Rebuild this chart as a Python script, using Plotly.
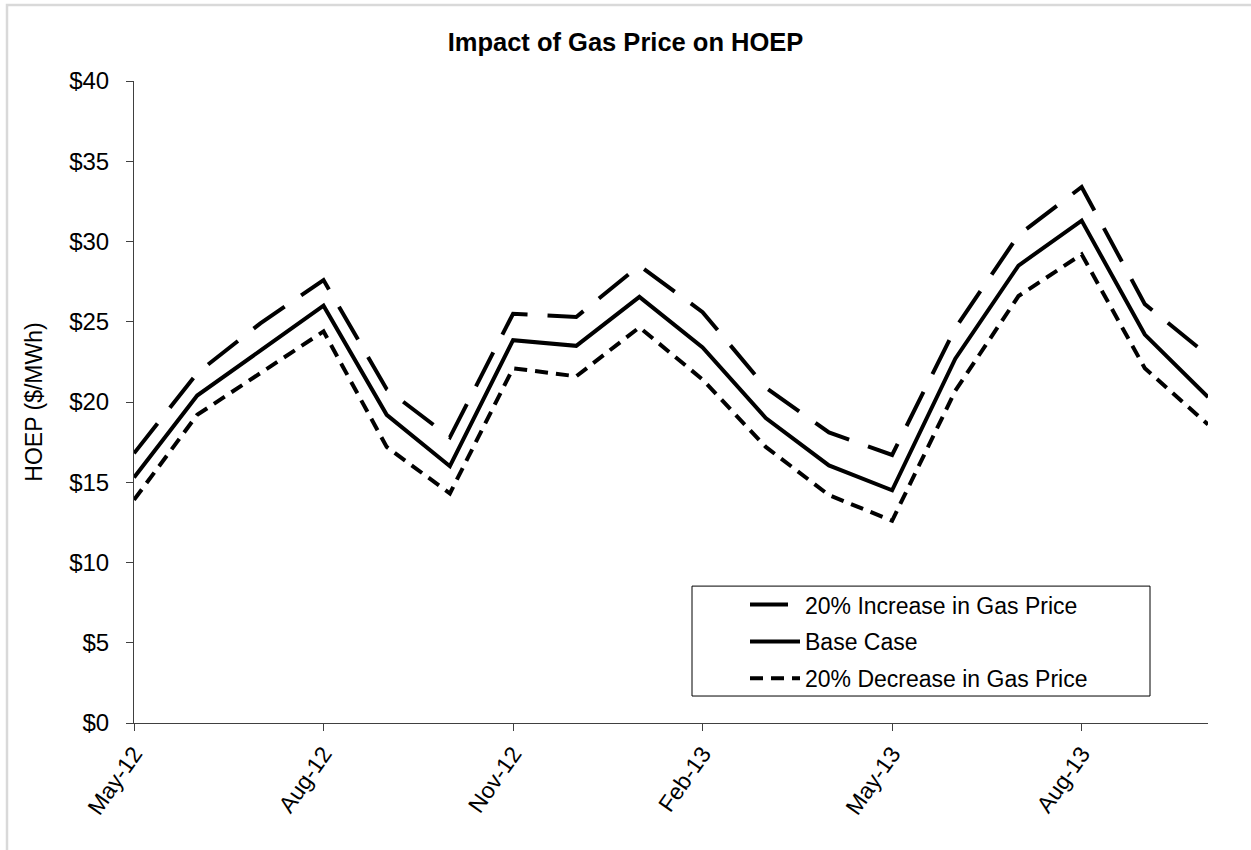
import plotly.graph_objects as go

# ---- data ----
months = ["May-12", "Jun-12", "Jul-12", "Aug-12", "Sep-12", "Oct-12", "Nov-12", "Dec-12",
          "Jan-13", "Feb-13", "Mar-13", "Apr-13", "May-13", "Jun-13", "Jul-13", "Aug-13",
          "Sep-13", "Oct-13"]
increase = [16.8, 21.8, 24.9, 27.6, 20.8, 17.8, 25.5, 25.3, 28.5, 25.6, 20.9, 18.1,
            16.7, 24.6, 30.4, 33.4, 26.1, 22.9]
base = [15.3, 20.4, 23.2, 26.0, 19.2, 16.0, 23.85, 23.5, 26.55, 23.4, 19.0, 16.05,
        14.5, 22.7, 28.5, 31.3, 24.2, 20.3]
decrease = [13.9, 19.2, 21.8, 24.4, 17.2, 14.3, 22.1, 21.6, 24.65, 21.4, 17.2, 14.2,
            12.6, 20.7, 26.6, 29.2, 22.1, 18.6]
tick_months = ["May-12", "Aug-12", "Nov-12", "Feb-13", "May-13", "Aug-13"]
series_names = ["20% Increase in Gas Price", "Base Case", "20% Decrease in Gas Price"]

W, H = 1251, 850
L, R, T, B = 134, 1208, 80.5, 723  # plot area in px

def px_x(x):
    return (x - L) / (R - L)

def px_y(y):
    return (B - y) / (B - T)

FONT = "Arial, Liberation Sans, sans-serif"

fig = go.Figure()
styles = [dict(dash="38px,20px"), dict(dash="solid"), dict(dash="13px,8px")]
for i, (name, vals) in enumerate(zip(series_names, [increase, base, decrease])):
    fig.add_trace(go.Scatter(
        x=months, y=vals, mode="lines", name=name, legendgroup=f"g{i}",
        line=dict(color="black", width=4, **styles[i]),
    ))

fig.update_layout(
    width=W, height=H,
    margin=dict(l=L, r=W - R, t=T, b=H - B, autoexpand=False),
    paper_bgcolor="white", plot_bgcolor="white",
    font=dict(family=FONT, color="black", size=23),
    title=dict(text="<b>Impact of Gas Price on HOEP</b>", x=0.5, xref="container",
               xanchor="center", y=1 - 42 / H, yref="container", yanchor="middle",
               font=dict(family=FONT, size=25.5, color="black")),
    showlegend=True,
    legend=dict(x=px_x(745), y=px_y(583), xanchor="left", yanchor="top",
                bgcolor="rgba(0,0,0,0)", borderwidth=0, itemwidth=50,
                tracegroupgap=4, font=dict(family=FONT, size=23, color="black"),
                traceorder="grouped"),
    shapes=[
        dict(type="rect", xref="paper", yref="paper",
             x0=px_x(692), x1=px_x(1150), y0=px_y(696), y1=px_y(586),
             line=dict(color="black", width=1), fillcolor="rgba(0,0,0,0)"),
        dict(type="rect", xref="paper", yref="paper",
             x0=px_x(7), x1=px_x(1270), y0=px_y(870), y1=px_y(4.5),
             line=dict(color="#d9d9d9", width=2.5), fillcolor="rgba(0,0,0,0)"),
    ],
)

fig.update_xaxes(
    type="category", range=[0, len(months) - 1],
    tickmode="array", tickvals=tick_months, ticktext=tick_months,
    tickangle=-55, ticks="outside", ticklen=7, tickcolor="#404040",
    showline=True, linecolor="#404040", linewidth=1, showgrid=False, zeroline=False,
    tickfont=dict(family=FONT, size=23, color="black"),
)
fig.update_yaxes(
    range=[0, 40], dtick=5, tickprefix="$", ticks="outside", ticklen=7, tickcolor="#404040",
    showline=True, linecolor="#404040", linewidth=1, showgrid=False, zeroline=False,
    ticklabelstandoff=12,
    tickfont=dict(family=FONT, size=24, color="black"),
    title=dict(text="HOEP ($/MWh)", standoff=20, font=dict(family=FONT, size=23, color="black")),
)

fig.write_html("out.html", config={"displayModeBar": False},
               post_script="document.body.style.margin='0';")
